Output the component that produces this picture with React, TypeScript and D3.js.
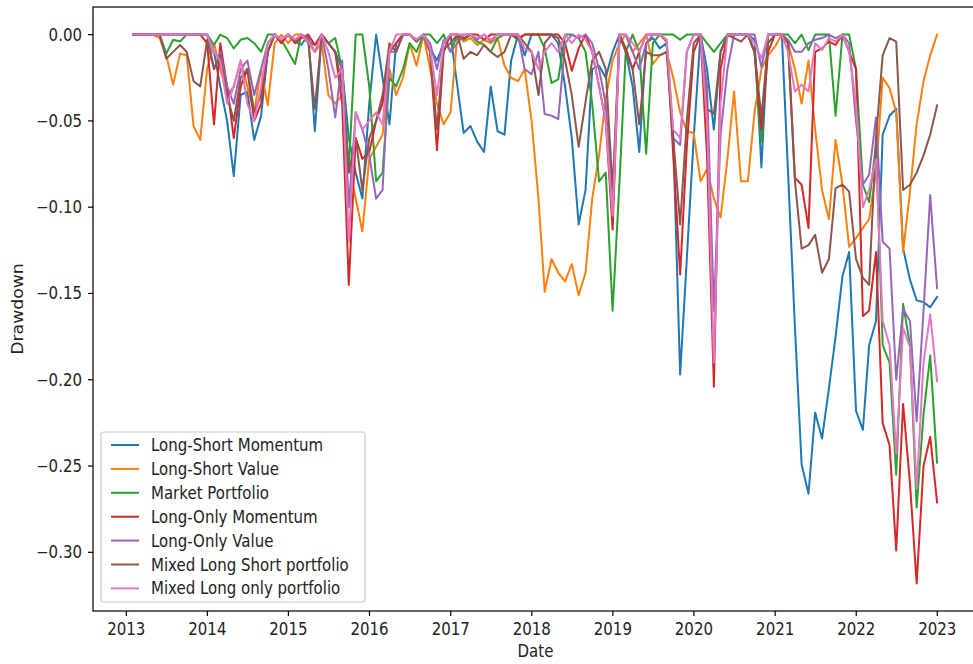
import React from "react";
import * as d3 from "d3";

// ---- data (monthly month-end drawdowns, Jan 2013 .. Dec 2022) ----
const months: Date[] = d3.range(120).map((i) => new Date(2013, i + 1, 0));

const seriesNames = [
  "Long-Short Momentum",
  "Long-Short Value",
  "Market Portfolio",
  "Long-Only Momentum",
  "Long-Only Value",
  "Mixed Long Short portfolio",
  "Mixed Long only portfolio",
];

const seriesColors = ["#1f77b4", "#ff7f0e", "#2ca02c", "#d62728", "#9467bd", "#8c564b", "#e377c2"];

const longShortMomentum = [
  0, 0, 0, 0, 0, 0, 0, 0, 0, 0, 0, 0,
  -0.01, -0.03, -0.05, -0.082, -0.035, -0.033, -0.061, -0.047, -0.01, 0, -0.003, 0,
  -0.004, -0.006, 0, -0.056, 0, -0.005, -0.01, -0.02, -0.06, -0.08, -0.095, -0.04,
  0, -0.025, -0.052, -0.005, 0, 0, -0.004, 0, -0.008, -0.015, -0.005, 0,
  -0.03, -0.057, -0.053, -0.062, -0.068, -0.03, -0.056, -0.058, -0.015, 0, -0.012, 0,
  0, 0, 0, -0.005, -0.03, -0.06, -0.11, -0.09, -0.02, -0.018, -0.025, -0.01,
  0, -0.01, -0.03, -0.068, -0.005, -0.002, -0.008, -0.005, -0.06, -0.197, -0.13, -0.06,
  0, -0.02, -0.055, -0.01, 0, 0, 0, 0, -0.003, -0.077, 0, 0,
  0, -0.08, -0.17, -0.249, -0.266, -0.219, -0.234, -0.205, -0.175, -0.14, -0.126, -0.218,
  -0.229, -0.18, -0.166, -0.058, -0.047, -0.043, -0.124, -0.142, -0.154, -0.155, -0.158, -0.152,
];

const longShortValue = [
  0, 0, 0, 0, -0.002, -0.012, -0.029, -0.011, -0.012, -0.053, -0.061, -0.02,
  -0.005, -0.02, -0.035, -0.03, -0.015, -0.03, -0.045, -0.02, -0.041, -0.005, 0, -0.005,
  0, 0, -0.005, -0.01, -0.005, -0.035, -0.04, -0.035, -0.075, -0.095, -0.114, -0.072,
  -0.065, -0.058, -0.02, -0.035, -0.025, -0.005, -0.018, 0, -0.02, -0.04, -0.052, -0.045,
  0, -0.004, -0.002, -0.006, -0.003, -0.005, -0.002, -0.018, -0.025, -0.027, -0.02, -0.05,
  -0.095, -0.149, -0.13, -0.138, -0.143, -0.133, -0.151, -0.138, -0.095, -0.07, -0.037, -0.015,
  -0.005, 0, -0.01, -0.005, 0, -0.017, -0.012, -0.01, -0.025, -0.045, -0.056, -0.057,
  -0.085, -0.078, -0.095, -0.106, -0.072, -0.033, -0.085, -0.085, -0.045, -0.02, -0.012, -0.007,
  0, -0.005, -0.02, -0.04, -0.015, -0.055, -0.09, -0.107, -0.061, -0.087, -0.123, -0.118,
  -0.112, -0.107, -0.08, -0.025, -0.031, -0.045, -0.126, -0.091, -0.052, -0.027, -0.012, 0,
];

const marketPortfolio = [
  0, 0, 0, 0, 0, -0.011, -0.003, -0.004, 0, 0, 0, 0,
  -0.006, 0, -0.002, -0.008, -0.003, -0.002, -0.005, -0.01, 0, 0, -0.003, -0.01,
  -0.017, 0, -0.004, -0.006, 0, -0.005, -0.002, -0.02, -0.078, 0, 0, -0.03,
  -0.085, -0.08, -0.025, -0.03, -0.02, -0.005, -0.01, 0, 0, -0.005, 0, -0.01,
  0, -0.003, 0, -0.004, -0.006, -0.01, -0.002, 0, 0, -0.003, 0, 0,
  0, -0.008, -0.028, -0.026, 0, 0, -0.002, -0.01, -0.04, -0.085, -0.08, -0.16,
  -0.085, -0.01, 0, -0.01, -0.069, -0.005, 0, 0, 0, -0.003, 0, 0,
  0, -0.005, -0.01, -0.005, 0, 0, 0, 0, -0.01, -0.062, 0, 0,
  0, 0, -0.005, 0, -0.009, 0, 0, 0, -0.047, 0, 0, -0.02,
  -0.087, -0.097, -0.064, -0.18, -0.19, -0.255, -0.156, -0.18, -0.274, -0.22, -0.186, -0.248,
];

const longOnlyMomentum = [
  0, 0, 0, 0, 0, 0, 0, 0, 0, 0, 0, -0.005,
  -0.052, -0.005, -0.03, -0.06, -0.03, -0.02, -0.05, -0.04, -0.01, 0, -0.005, 0,
  -0.005, -0.002, 0, -0.006, 0, -0.005, -0.01, -0.04, -0.145, -0.06, -0.072, -0.068,
  -0.05, -0.04, -0.01, -0.005, 0, 0, -0.003, 0, -0.01, -0.067, -0.01, 0,
  0, -0.002, 0, 0, -0.003, 0, 0, 0, 0, -0.002, 0, 0,
  0, 0, 0, 0, -0.005, -0.021, -0.008, 0, -0.01, -0.03, -0.05, -0.113,
  0, -0.008, -0.02, -0.01, 0, 0, 0, -0.004, -0.07, -0.139, -0.065, -0.01,
  0, -0.07, -0.204, -0.02, 0, 0, 0, 0, -0.01, -0.055, -0.01, 0,
  0, -0.005, -0.083, -0.087, -0.112, -0.01, -0.008, -0.004, -0.006, 0, -0.01, -0.02,
  -0.163, -0.16, -0.126, -0.225, -0.238, -0.299, -0.214, -0.26, -0.318, -0.25, -0.233, -0.271,
];

const longOnlyValue = [
  0, 0, 0, 0, 0, 0, 0, 0, 0, 0, 0, 0,
  -0.02, -0.01, -0.03, -0.04, -0.02, -0.015, -0.035, -0.02, -0.005, 0, -0.003, 0,
  -0.003, 0, -0.002, -0.01, 0, -0.02, -0.048, -0.015, -0.1, -0.045, -0.055, -0.07,
  -0.095, -0.09, -0.01, -0.01, 0, 0, -0.003, 0, -0.005, -0.02, -0.003, -0.01,
  -0.005, 0, 0, -0.003, 0, -0.004, 0, 0, 0, 0, -0.02, -0.023,
  -0.01, -0.046, -0.047, -0.049, -0.005, 0, -0.002, 0, -0.005, -0.02, -0.04, -0.1,
  0, 0, -0.01, -0.02, -0.005, 0, 0, -0.003, -0.06, -0.064, -0.01, 0,
  0, -0.03, -0.16, -0.058, -0.02, 0, 0, 0, 0, -0.019, 0, 0,
  0, -0.003, -0.01, -0.01, -0.005, -0.003, -0.002, 0, -0.002, 0, -0.005, -0.05,
  -0.087, -0.081, -0.048, -0.12, -0.124, -0.2, -0.159, -0.166, -0.224, -0.16, -0.093, -0.147,
];

const mixedLongShort = [
  0, 0, 0, 0, 0, -0.014, -0.01, -0.006, -0.01, -0.027, -0.03, -0.003,
  -0.02, -0.012, -0.035, -0.05, -0.025, -0.02, -0.045, -0.035, -0.01, 0, -0.003, 0,
  -0.004, 0, -0.003, -0.043, 0, -0.005, -0.01, -0.03, -0.08, -0.06, -0.09, -0.06,
  -0.05, -0.035, -0.005, -0.01, 0, 0, -0.004, 0, -0.01, -0.055, -0.008, -0.005,
  0, -0.014, -0.01, -0.012, -0.006, -0.01, -0.013, -0.01, 0, 0, -0.005, -0.01,
  -0.035, -0.005, 0, -0.002, -0.015, -0.035, -0.065, -0.039, -0.015, -0.01, -0.02, -0.09,
  0, -0.01, -0.02, -0.052, -0.01, -0.012, -0.012, -0.01, -0.06, -0.11, -0.05, -0.005,
  0, -0.043, -0.046, -0.01, 0, -0.002, -0.004, 0, -0.01, -0.048, -0.005, 0,
  0, -0.005, -0.085, -0.124, -0.122, -0.116, -0.138, -0.13, -0.089, -0.087, -0.091, -0.13,
  -0.141, -0.145, -0.06, -0.012, -0.002, -0.004, -0.09, -0.087, -0.08, -0.07, -0.058, -0.041,
];

const mixedLongOnly = [
  0, 0, 0, 0, 0, 0, 0, 0, 0, 0, 0, 0,
  -0.01, -0.015, -0.04, -0.03, -0.015, -0.04, -0.05, -0.03, -0.005, 0, -0.003, 0,
  -0.003, 0, -0.004, -0.01, 0, -0.01, -0.025, -0.02, -0.12, -0.045, -0.055, -0.05,
  -0.045, -0.052, -0.01, 0, 0, 0, -0.003, 0, -0.008, -0.035, -0.005, 0,
  0, 0, 0, -0.002, 0, -0.003, 0, 0, 0, 0, -0.008, -0.01,
  -0.02, -0.01, -0.005, -0.01, 0, -0.005, 0, -0.003, -0.01, -0.03, -0.05, -0.105,
  0, 0, -0.005, -0.01, 0, 0, 0, -0.003, -0.055, -0.06, -0.01, 0,
  0, -0.05, -0.19, -0.04, 0, 0, 0, 0, -0.005, -0.014, 0, 0,
  0, -0.01, -0.033, -0.029, -0.033, -0.005, -0.009, -0.002, -0.004, 0, -0.01, -0.04,
  -0.1, -0.09, -0.072, -0.166, -0.18, -0.243, -0.17, -0.181, -0.263, -0.19, -0.162, -0.201,
];

const seriesValues = [
  longShortMomentum,
  longShortValue,
  marketPortfolio,
  longOnlyMomentum,
  longOnlyValue,
  mixedLongShort,
  mixedLongOnly,
];

const yTickValues = [0, -0.05, -0.1, -0.15, -0.2, -0.25, -0.3];
const xTickYears = d3.range(2013, 2024);

// ---- layout ----
const W = 973;
const H = 664;
const PL = 93;
const PR = 978;
const PT = 7;
const PB = 611;
const FS = 15;
const SY = 1.15;
const TXT = "#222";

function Label(props: { x: number; y: number; anchor?: string; rot?: boolean; children: any }) {
  const { x, y, anchor = "start", rot = false, children } = props;
  const tf = rot
    ? `translate(${x},${y}) rotate(-90) scale(${SY},1)`
    : `translate(${x},${y}) scale(1,${SY})`;
  return (
    <text transform={tf} textAnchor={anchor as any} fontSize={FS} fontFamily="DejaVu Sans" fill={TXT}>
      {children}
    </text>
  );
}

export default function App() {
  const x = d3
    .scaleTime()
    .domain([new Date(2013, 0, 1), new Date(2023, 0, 1)])
    .range([126.3, 937.3]);
  const y = d3.scaleLinear().domain([-0.334, 0.016]).range([PB, PT]);

  const line = d3
    .line<number>()
    .x((_, i) => x(months[i]))
    .y((v) => y(v));

  const fmt = (v: number) => d3.format(".2f")(v).replace("-", "\u2212");

  const legendX = 101;
  const legendY = 432;
  const rowStep = 23.9;

  return (
    <svg
      width={W}
      height={H}
      style={{ position: "absolute", left: 0, top: 0, background: "#fff" }}
    >
      <rect x={0} y={0} width={W} height={H} fill="#fff" />
      {/* series */}
      <g fill="none" strokeWidth={2} strokeLinejoin="round" strokeLinecap="square">
        {seriesValues.map((vals, k) => (
          <path key={k} d={line(vals) || ""} stroke={seriesColors[k]} />
        ))}
      </g>
      {/* spines */}
      <rect x={PL} y={PT} width={PR - PL} height={PB - PT} fill="none" stroke="#000" strokeWidth={1.2} />
      {/* x ticks */}
      {xTickYears.map((yr) => {
        const xx = x(new Date(yr, 0, 1));
        return (
          <g key={yr}>
            <line x1={xx} x2={xx} y1={PB} y2={PB + 5} stroke="#000" strokeWidth={1.2} />
            <Label x={xx} y={635} anchor="middle">
              {String(yr)}
            </Label>
          </g>
        );
      })}
      {/* y ticks */}
      {yTickValues.map((v) => {
        const yy = y(v);
        return (
          <g key={v}>
            <line x1={PL - 5} x2={PL} y1={yy} y2={yy} stroke="#000" strokeWidth={1.2} />
            <Label x={82} y={yy + 6} anchor="end">
              {fmt(v)}
            </Label>
          </g>
        );
      })}
      <Label x={(PL + PR) / 2} y={657} anchor="middle">
        Date
      </Label>
      <Label x={23} y={(PT + PB) / 2} anchor="middle" rot>
        Drawdown
      </Label>
      {/* legend */}
      <rect
        x={legendX}
        y={legendY}
        width={264}
        height={170}
        rx={3}
        fill="#fff"
        fillOpacity={0.8}
        stroke="#cccccc"
        strokeWidth={1.2}
      />
      {seriesNames.map((name, k) => {
        const ry = legendY + 13 + k * rowStep;
        return (
          <g key={name}>
            <line x1={111} x2={139} y1={ry} y2={ry} stroke={seriesColors[k]} strokeWidth={2} />
            <Label x={151} y={ry + 6}>
              {name}
            </Label>
          </g>
        );
      })}
    </svg>
  );
}
